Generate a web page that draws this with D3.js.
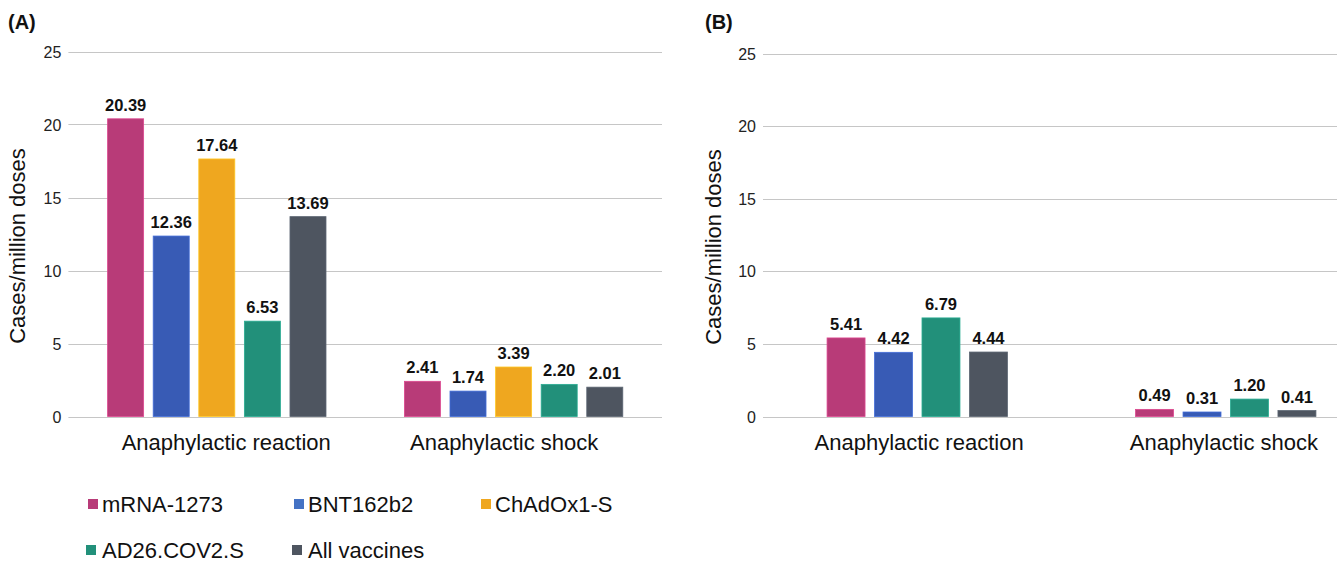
<!DOCTYPE html>
<html>
<script src='https://d3js.org/d3.v7.min.js'></script>
<head>
<title>Anaphylaxis rates</title>
<style>
body {margin:0; background-color:white;}
svg {font-family:'Liberation Sans', Arial, sans-serif;}
.grid line {stroke:#c6c6c6; stroke-width:1;}
.tick-label {font-size:16px; fill:#222;}
.cat-label {font-size:22px; fill:#111;}
.val-label {font-size:16.5px; font-weight:bold; fill:#111;}
.y-title {font-size:22px; fill:#111;}
.panel-title {font-size:20px; font-weight:bold; fill:#111;}
.legend text {font-size:22px; fill:#111;}
</style>
</head>
<body>
<svg width=1338 height=562></svg>

<script>
var categories = ['Anaphylactic reaction','Anaphylactic shock']
var yTicks = [0,5,10,15,20,25]

// panel A: all vaccines
var seriesA = ['mRNA-1273','BNT162b2','ChAdOx1-S','AD26.COV2.S','All vaccines']
var reactionA = [20.39,12.36,17.64,6.53,13.69]
var shockA = [2.41,1.74,3.39,2.20,2.01]

// panel B: no ChAdOx1-S
var seriesB = ['mRNA-1273','BNT162b2','AD26.COV2.S','All vaccines']
var reactionB = [5.41,4.42,6.79,4.44]
var shockB = [0.49,0.31,1.20,0.41]

var colors = {'mRNA-1273':'#B83B78','BNT162b2':'#385BB5','ChAdOx1-S':'#EFA71F','AD26.COV2.S':'#22907A','All vaccines':'#4E5560'}
var legendColors = {'mRNA-1273':'#B83B78','BNT162b2':'#4472C4','ChAdOx1-S':'#EFA71F','AD26.COV2.S':'#22907A','All vaccines':'#4E5560'}

var svg = d3.select('svg')

function drawPanel(p){
  var x0 = d3.scaleBand().domain(categories).range([p.left, p.right])
  var x1 = d3.scaleBand().domain(p.series).range([0, x0.bandwidth()])
      .paddingInner(p.padIn).paddingOuter(p.padOut)
  // labels sit on their own band scale (slightly pulled in)
  var xl = d3.scaleBand().domain(categories).range([p.left, p.right]).paddingOuter(p.labelPad)
  var y = d3.scaleLinear().domain([0,25]).range([p.bottom, p.top])

  var g = svg.append('g')

  //gridlines
  g.append('g').attr('class','grid')
    .selectAll('line')
    .data(yTicks)
    .enter()
    .append('line')
      .attr('x1', p.left)
      .attr('x2', p.gridEnd)
      .attr('y1', function(d) {return Math.round(y(d))+0.5;})
      .attr('y2', function(d) {return Math.round(y(d))+0.5;})

  //y tick labels
  g.selectAll('.tick-label')
    .data(yTicks)
    .enter()
    .append('text')
      .attr('class','tick-label')
      .attr('text-anchor','end')
      .attr('x', p.left-7)
      .attr('y', function(d) {return y(d)+6;})
      .text(function(d) {return d;})

  //bars per category
  var rows = [p.reaction, p.shock]
  var groups = g.selectAll('.group')
    .data(categories)
    .enter()
    .append('g')
      .attr('class','group')
      .attr('transform', function(d) {return 'translate('+x0(d)+',0)';})

  groups.selectAll('rect')
    .data(function(d,i) {return p.series.map(function(s,j) {return {s:s, v:rows[i][j]};});})
    .enter()
    .append('rect')
      .attr('x', function(d) {return x1(d.s);})
      .attr('y', function(d) {return y(d.v);})
      .attr('width', x1.bandwidth())
      .attr('height', function(d) {return y(0)-y(d.v);})
      .attr('fill', function(d) {return colors[d.s];})
      .attr('stroke', function(d) {return d3.color(colors[d.s]).brighter(0.5);})
      .attr('stroke-width', 0.8)

  groups.selectAll('.val-label')
    .data(function(d,i) {return p.series.map(function(s,j) {return {s:s, v:rows[i][j]};});})
    .enter()
    .append('text')
      .attr('class','val-label')
      .attr('text-anchor','middle')
      .attr('x', function(d) {return x1(d.s)+x1.bandwidth()/2;})
      .attr('y', function(d) {return y(d.v)-8;})
      .text(function(d) {return d.v.toFixed(2);})

  //category labels
  g.selectAll('.cat-label')
    .data(categories)
    .enter()
    .append('text')
      .attr('class','cat-label')
      .attr('text-anchor','middle')
      .attr('x', function(d) {return xl(d)+xl.bandwidth()/2;})
      .attr('y', p.bottom+33)
      .text(function(d) {return d;})

  //y axis title
  g.append('text')
    .attr('class','y-title')
    .attr('text-anchor','middle')
    .attr('transform','translate('+p.titleX+','+p.titleY+') rotate(-90)')
    .text('Cases/million doses')

  //panel letter
  g.append('text')
    .attr('class','panel-title')
    .attr('x', p.letterX)
    .attr('y', 29)
    .text(p.letter)
}

drawPanel({series:seriesA, reaction:reactionA, shock:shockA, left:68.4, right:662, gridEnd:662,
  top:51.5, bottom:416.5, padIn:0.21, padOut:0.86, labelPad:0.068,
  titleX:25, titleY:246, letterX:8, letter:'(A)'})

drawPanel({series:seriesB, reaction:reactionB, shock:shockB, left:763, right:1380, gridEnd:1337,
  top:53.5, bottom:416.5, padIn:0.2, padOut:1.35, labelPad:0.012,
  titleX:721, titleY:247, letterX:705, letter:'(B)'})

//legend
var legendX = [88,294,481]
var legend = svg.append('g').attr('class','legend')
  .selectAll('g')
  .data(seriesA)
  .enter()
  .append('g')
    .attr('transform', function(d,i) {return 'translate('+legendX[i%3]+','+(i<3 ? 504 : 550)+')';})

legend.append('rect')
  .attr('x', function(d,i) {return i<3 ? 0 : -2;})
  .attr('y',-5)
  .attr('width',10)
  .attr('height',10)
  .attr('fill', function(d) {return legendColors[d];})

legend.append('text')
  .attr('x', 14)
  .attr('y', 8)
  .text(function(d) {return d;})
</script>
</body>
</html>
